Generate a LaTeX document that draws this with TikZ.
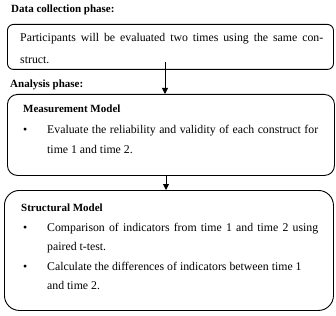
\documentclass[tikz,border=0pt]{standalone}
\usepackage{fontspec}
\setmainfont{Liberation Serif}
\usetikzlibrary{arrows.meta}
\begin{document}
\begin{tikzpicture}[x=1pt,y=-1pt,
  box/.style={draw, line width=0.9pt, anchor=north west, inner sep=0},
  txt/.style={anchor=base west, inner sep=0, font=\fontsize{11.8}{13}\selectfont},
  hd/.style={anchor=base west, inner sep=0, font=\fontsize{11}{12}\selectfont\bfseries},
  arr/.style={line width=0.9pt, -{Triangle[length=6pt,width=6pt]}}]
\useasboundingbox (0,0) rectangle (336,315);
% boxes
\node[box, rounded corners=6pt, minimum width=326pt, minimum height=45pt] (b1) at (7,24) {};
\node[box, rounded corners=10pt, minimum width=327pt, minimum height=81pt] (b2) at (7,94) {};
\node[box, rounded corners=15pt, minimum width=329pt, minimum height=120pt] (b3) at (4,190) {};
% phase titles
\node[hd] (t0) at (11,13) {Data collection phase:};
\node[hd] (t1) at (10,88) {Analysis phase:};
% box 1 text
\node[txt] (l1) at (20,42) {\makebox[303pt][s]{Participants will be evaluated two times using the same con-}};
\node[txt] (l2) at (20,64) {struct.};
% box 2 text
\node[hd] (h2) at (23,112) {Measurement Model};
\node[txt] (bu1) at (23,133) {\textbullet};
\node[txt] (l3) at (47,133) {\makebox[271pt][s]{Evaluate the reliability and validity of each construct for}};
\node[txt] (l4) at (47,153) {time 1 and time 2.};
% box 3 text
\node[hd] (h3) at (21,211) {Structural Model};
\node[txt] (bu2) at (23,231) {\textbullet};
\node[txt] (l5) at (47,231) {\makebox[271pt][s]{Comparison of indicators from time 1 and time 2 using}};
\node[txt] (l6) at (47,250) {paired t-test.};
\node[txt] (bu3) at (23,270) {\textbullet};
\node[txt] (l7) at (47,270) {Calculate the differences of indicators between time 1};
\node[txt] (l8) at (47,289) {and time 2.};
% arrows
\coordinate (a1) at (165,62);
\coordinate (a2) at (166,0);
\draw[arr] (a1) -- (a1 |- b2.north);
\draw[arr] (b2.south -| a2) -- (b3.north -| a2);
\end{tikzpicture}
\end{document}
